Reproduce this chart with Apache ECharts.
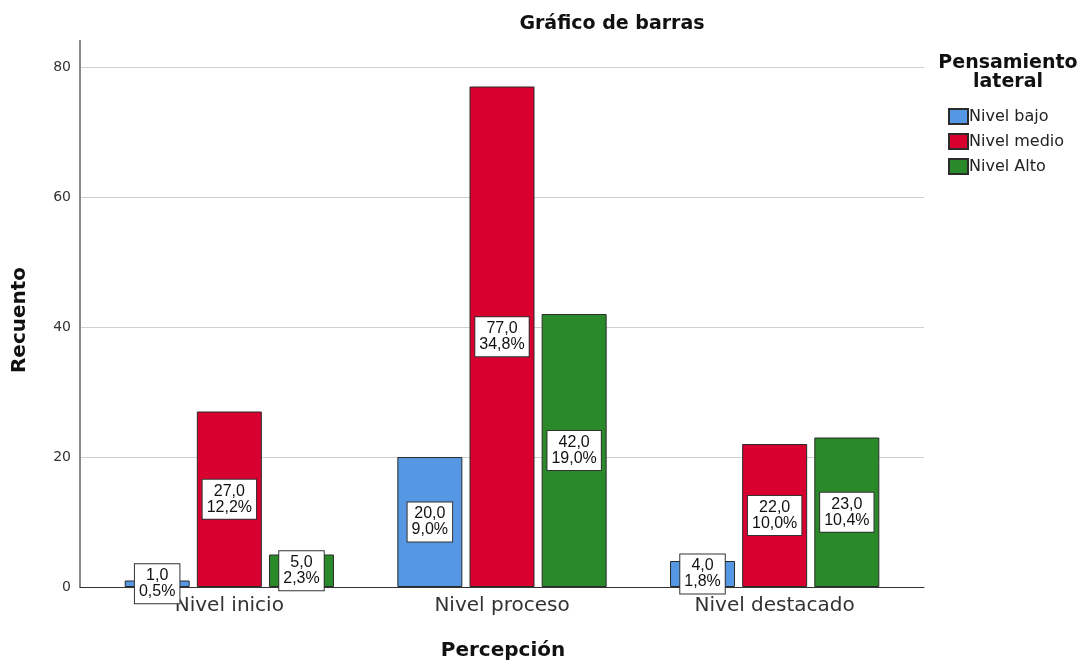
<!DOCTYPE html>
<html><head><meta charset="utf-8">
<script src="https://cdn.jsdelivr.net/npm/echarts@6/dist/echarts.min.js"></script>
<style>html,body{margin:0;padding:0;background:#fff}#c{width:1088px;height:664px}</style>
</head><body><div id="c"></div>
<script>
const categories = ['Nivel inicio', 'Nivel proceso', 'Nivel destacado'];
const seriesNames = ['Nivel bajo', 'Nivel medio', 'Nivel Alto'];
const bajo = [1, 20, 4];
const medio = [27, 77, 22];
const alto = [5, 42, 23];
const bajoPct = ['0,5%', '9,0%', '1,8%'];
const medioPct = ['12,2%', '34,8%', '10,0%'];
const altoPct = ['2,3%', '19,0%', '10,4%'];
const yTicks = [0, 20, 40, 60, 80];

const colors = ['#5597e3', '#d7002f', '#2a8a2a'];
const values = [bajo, medio, alto];
const pcts = [bajoPct, medioPct, altoPct];
const FONT = '"DejaVu Sans", sans-serif';
const LFONT = '"Liberation Sans", Arial, sans-serif';

const chart = echarts.init(document.getElementById('c'));
const series = seriesNames.map((n, i) => ({
  name: n, type: 'bar', xAxisIndex: 1, yAxisIndex: 1,
  data: values[i], barWidth: 65, barGap: '11%',
  itemStyle: { color: colors[i], borderColor: '#2b2b2b', borderWidth: 1 },
  label: {
    show: true, position: 'inside',
    formatter: p => values[i][p.dataIndex].toFixed(1).replace('.', ',') + '\n' + pcts[i][p.dataIndex],
    fontFamily: LFONT, fontSize: 16, lineHeight: 16, color: '#111',
    backgroundColor: '#fff', borderColor: '#333', borderWidth: 1, padding: [4, 4, 3, 4]
  },
  emphasis: { disabled: true }
}));

chart.setOption({
  animation: false,
  textStyle: { fontFamily: FONT },
  grid: [
    { left: 80, right: 164, top: 67, bottom: 77 },
    { left: 93, right: 177, top: 67, bottom: 77 }
  ],
  xAxis: [
    { type: 'category', gridIndex: 0, data: [''], axisLine: { lineStyle: { color: '#333', width: 1 } }, axisTick: { show: false }, axisLabel: { show: false } },
    { type: 'category', gridIndex: 1, data: categories, axisLine: { show: false }, axisTick: { show: false },
      axisLabel: { fontFamily: FONT, fontSize: 20, color: '#333', margin: 9 } }
  ],
  yAxis: [
    { type: 'value', gridIndex: 0, min: 0, max: 80, interval: 20,
      axisLine: { show: true, lineStyle: { color: '#8a8a8a', width: 2 } }, axisTick: { show: false },
      axisLabel: { fontFamily: FONT, fontSize: 14, color: '#333', margin: 9,
        formatter: v => yTicks.includes(v) ? String(v) : '' },
      splitLine: { lineStyle: { color: '#cfcfcf', width: 1 } } },
    { type: 'value', gridIndex: 1, min: 0, max: 80, show: false, splitLine: { show: false } }
  ],
  legend: {
    orient: 'vertical', left: 943, top: 103, itemWidth: 19, itemHeight: 15, itemGap: 8,
    icon: 'rect', data: seriesNames,
    textStyle: { fontFamily: FONT, fontSize: 16, lineHeight: 15, color: '#222', padding: [0, 0, 0, -4] }
  },
  graphic: [
    { type: 'line', shape: { x1: 80, y1: 40, x2: 80, y2: 68 }, style: { stroke: '#8a8a8a', lineWidth: 2 } },
    { type: 'text', x: 612, y: 24, style: { text: 'Gráfico de barras', font: 'bold 19px ' + FONT, fill: '#111', align: 'center', verticalAlign: 'middle' } },
    { type: 'text', x: 503, y: 651, style: { text: 'Percepción', font: 'bold 20px ' + FONT, fill: '#111', align: 'center', verticalAlign: 'middle' } },
    { type: 'text', x: 20, y: 320, rotation: Math.PI / 2, style: { text: 'Recuento', font: 'bold 20px ' + FONT, fill: '#111', align: 'center', verticalAlign: 'middle' } },
    { type: 'text', x: 1008, y: 73, style: { text: 'Pensamiento\nlateral', font: 'bold 19px ' + FONT, lineHeight: 19, fill: '#111', align: 'center', verticalAlign: 'middle' } }
  ],
  series
});
</script></body></html>
